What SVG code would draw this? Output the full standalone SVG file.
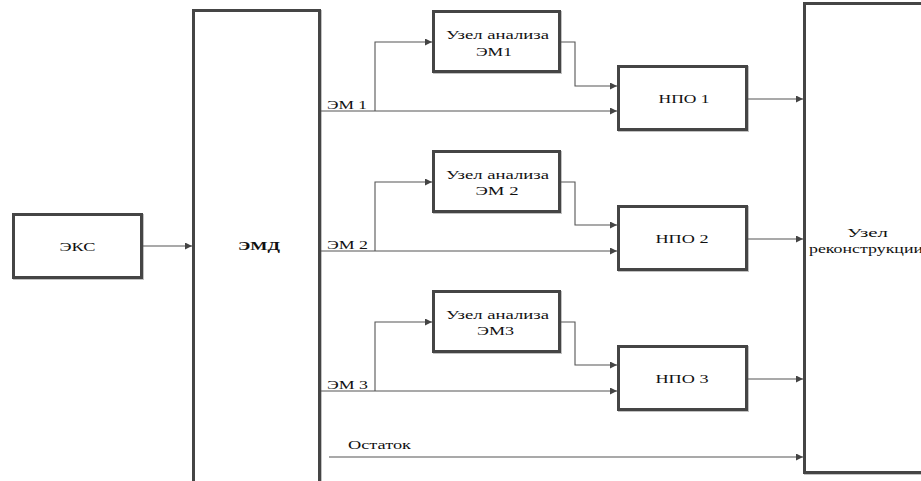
<svg xmlns="http://www.w3.org/2000/svg" width="921" height="481" viewBox="0 0 921 481">
<defs>
<marker id="arr" viewBox="0 0 10 10" refX="10" refY="5" markerWidth="9" markerHeight="7" markerUnits="userSpaceOnUse" orient="auto">
<path d="M0,0 L10,5 L0,10 z" fill="#444"/>
</marker>
<filter id="sh" x="-5%" y="-5%" width="110%" height="110%">
<feDropShadow dx="1" dy="1" stdDeviation="0.6" flood-color="#999" flood-opacity="0.6"/>
</filter>
</defs>
<style>
.box{fill:#fff;stroke:#444;stroke-width:3;filter:url(#sh)}
.t{font-family:'Liberation Serif','DejaVu Serif',serif;font-size:13px;fill:#111}
.c{text-anchor:middle}
.b{font-weight:bold}
.ln{fill:none;stroke:#555;stroke-width:1.1}
</style>
<rect width="921" height="481" fill="#fff"/>
<g id="eks">
<rect class="box" x="13.5" y="214.5" width="128" height="63"/>
<text class="t c" x="77.5" y="251" textLength="36" lengthAdjust="spacingAndGlyphs" font-family="Liberation Serif, serif">ЭКС</text>
</g>
<g id="emd">
<rect class="box" x="193.5" y="10.5" width="126" height="490"/>
<text class="t c b" x="259" y="250" textLength="42" lengthAdjust="spacingAndGlyphs" font-family="Liberation Serif, serif">ЭМД</text>
</g>
<g id="an1">
<rect class="box" x="433.5" y="11.5" width="126" height="60"/>
<text class="t c" x="497.5" y="39" textLength="103" lengthAdjust="spacingAndGlyphs" font-family="Liberation Serif, serif">Узел анализа</text>
<text class="t c" x="494" y="55.5" textLength="36" lengthAdjust="spacingAndGlyphs" font-family="Liberation Serif, serif">ЭМ1</text>
</g>
<g id="an2">
<rect class="box" x="433.5" y="151.5" width="126" height="60"/>
<text class="t c" x="497.5" y="179" textLength="103" lengthAdjust="spacingAndGlyphs" font-family="Liberation Serif, serif">Узел анализа</text>
<text class="t c" x="497" y="194.5" textLength="43" lengthAdjust="spacingAndGlyphs" font-family="Liberation Serif, serif">ЭМ 2</text>
</g>
<g id="an3">
<rect class="box" x="433.5" y="291.5" width="126" height="60"/>
<text class="t c" x="497.5" y="319" textLength="103" lengthAdjust="spacingAndGlyphs" font-family="Liberation Serif, serif">Узел анализа</text>
<text class="t c" x="495.5" y="334.5" textLength="37" lengthAdjust="spacingAndGlyphs" font-family="Liberation Serif, serif">ЭМ3</text>
</g>
<g id="npo1">
<rect class="box" x="618.5" y="66.5" width="128" height="63"/>
<text class="t c" x="684" y="103" textLength="51" lengthAdjust="spacingAndGlyphs" font-family="Liberation Serif, serif">НПО 1</text>
</g>
<g id="npo2">
<rect class="box" x="618.5" y="206.5" width="128" height="63"/>
<text class="t c" x="682" y="243" textLength="53" lengthAdjust="spacingAndGlyphs" font-family="Liberation Serif, serif">НПО 2</text>
</g>
<g id="npo3">
<rect class="box" x="618.5" y="346.5" width="128" height="63"/>
<text class="t c" x="682" y="383" textLength="53" lengthAdjust="spacingAndGlyphs" font-family="Liberation Serif, serif">НПО 3</text>
</g>
<g id="recon">
<rect class="box" x="804.5" y="3.5" width="200" height="469"/>
<text class="t c" x="867.5" y="237" textLength="41" lengthAdjust="spacingAndGlyphs" font-family="Liberation Serif, serif">Узел</text>
<text class="t c" x="866" y="253" textLength="114" lengthAdjust="spacingAndGlyphs" font-family="Liberation Serif, serif">реконструкции</text>
</g>
<g id="connectors">
<path class="ln" d="M143,246 H192" marker-end="url(#arr)"/>
<path class="ln" d="M321,111 H617" marker-end="url(#arr)"/>
<path class="ln" d="M375,111 V42 H432" marker-end="url(#arr)"/>
<path class="ln" d="M561,42 H575 V86 H617" marker-end="url(#arr)"/>
<path class="ln" d="M748,99 H803" marker-end="url(#arr)"/>
<path class="ln" d="M321,251 H617" marker-end="url(#arr)"/>
<path class="ln" d="M375,251 V182 H432" marker-end="url(#arr)"/>
<path class="ln" d="M561,182 H575 V225 H617" marker-end="url(#arr)"/>
<path class="ln" d="M748,239 H803" marker-end="url(#arr)"/>
<path class="ln" d="M321,391 H617" marker-end="url(#arr)"/>
<path class="ln" d="M375,391 V322 H432" marker-end="url(#arr)"/>
<path class="ln" d="M561,322 H575 V365 H617" marker-end="url(#arr)"/>
<path class="ln" d="M748,379 H803" marker-end="url(#arr)"/>
<path class="ln" d="M329,457 H803" marker-end="url(#arr)"/>
<text class="t" x="327" y="109" textLength="40" lengthAdjust="spacingAndGlyphs" font-family="Liberation Serif, serif">ЭМ 1</text>
<text class="t" x="327" y="249" textLength="41" lengthAdjust="spacingAndGlyphs" font-family="Liberation Serif, serif">ЭМ 2</text>
<text class="t" x="327" y="389" textLength="41" lengthAdjust="spacingAndGlyphs" font-family="Liberation Serif, serif">ЭМ 3</text>
<text class="t" x="348" y="449" textLength="63" lengthAdjust="spacingAndGlyphs" font-family="Liberation Serif, serif">Остаток</text>
</g>
</svg>
